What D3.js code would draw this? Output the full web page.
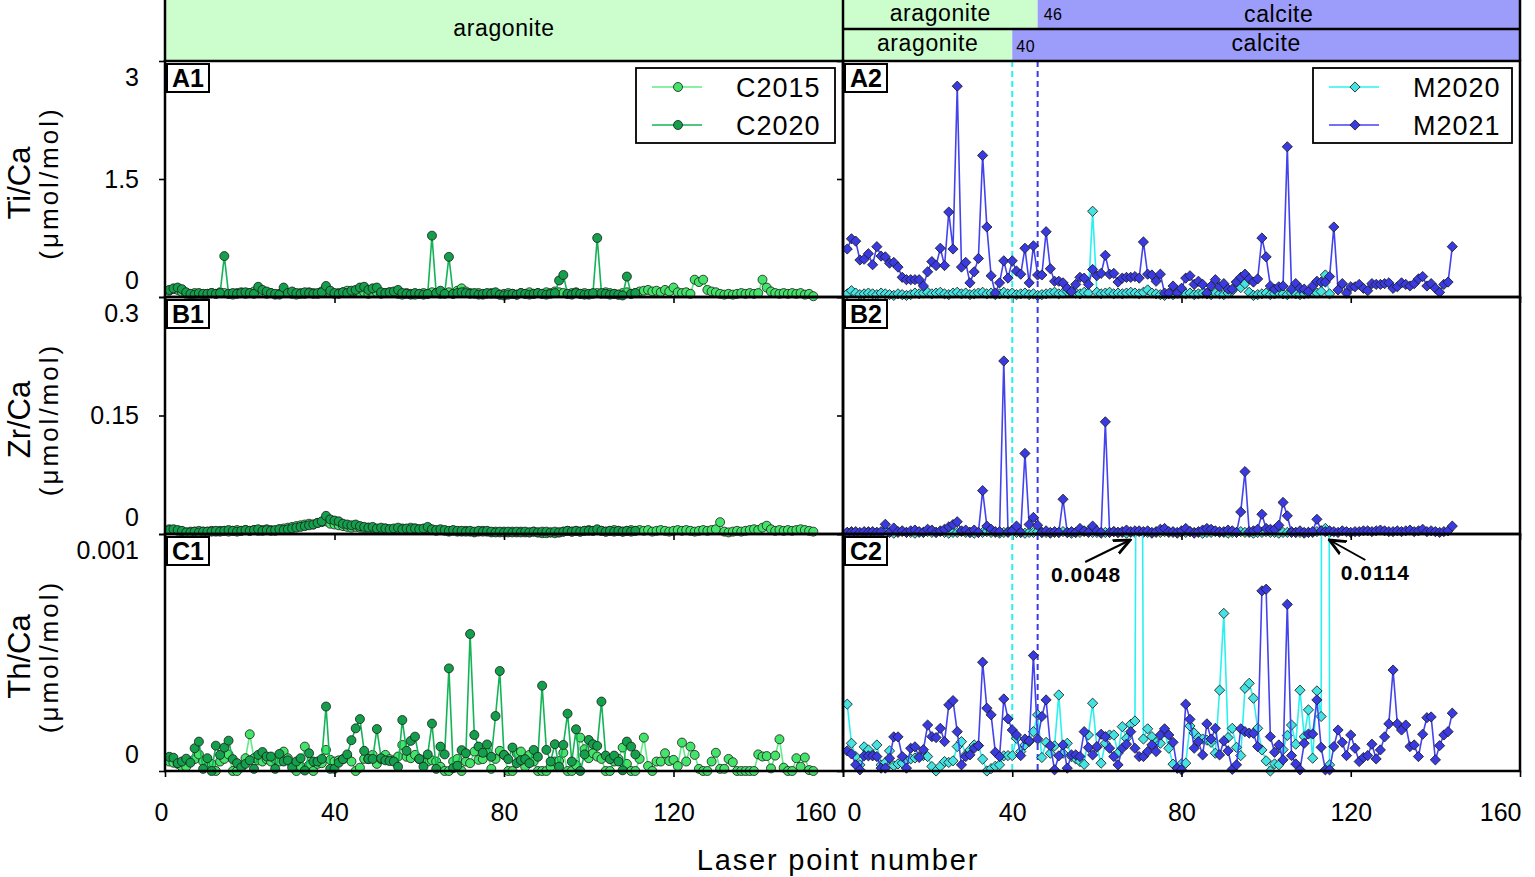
<!DOCTYPE html>
<html>
<head>
<meta charset="utf-8">
<script src="https://cdn.jsdelivr.net/npm/d3@7/dist/d3.min.js"></script>
<style>
    body { margin: 0; background: #fff; }
    svg { display: block; font-family: 'Liberation Sans', Arial, sans-serif; }
</style>
</head>
<body>
<svg id="chart" width="1535" height="877"></svg>
<script>
// laser point number of the first value in every series
const firstPoint = 1;

const xTicks = [0, 40, 80, 120, 160];
const tiTicks = [0, 1.5, 3];
const zrTicks = [0, 0.15, 0.3];
const thTicks = [0, 0.001];

// phase boundaries (laser point) for the two modern samples
const boundaryM2021 = 46;
const boundaryM2020 = 40;

// Ti/Ca (umol/mol)
const tiC2015 = [
    0.08, 0.10, 0.09, 0.06, 0.04, 0.03, 0.05, 0.04, 0.03, 0.04,
    0.05, 0.04, 0.06, 0.05, 0.04, 0.03, 0.05, 0.06, 0.04, 0.05,
    0.07, 0.09, 0.06, 0.04, 0.05, 0.03, 0.04, 0.06, 0.05, 0.04,
    0.03, 0.05, 0.04, 0.06, 0.05, 0.04, 0.07, 0.08, 0.05, 0.04,
    0.05, 0.06, 0.08, 0.06, 0.07, 0.05, 0.06, 0.04, 0.05, 0.06,
    0.04, 0.05, 0.06, 0.05, 0.04, 0.03, 0.05, 0.04, 0.03, 0.04,
    0.05, 0.04, 0.06, 0.05, 0.04, 0.05, 0.06, 0.04, 0.08, 0.11,
    0.07, 0.05, 0.04, 0.05, 0.03, 0.04, 0.05, 0.04, 0.03, 0.04,
    0.05, 0.04, 0.03, 0.05, 0.04, 0.06, 0.04, 0.05, 0.04, 0.06,
    0.05, 0.07, 0.06, 0.05, 0.04, 0.05, 0.06, 0.04, 0.05, 0.03,
    0.04, 0.05, 0.04, 0.06, 0.05, 0.04, 0.03, 0.05, 0.06, 0.04,
    0.05, 0.07, 0.08, 0.09, 0.07, 0.08, 0.06, 0.09, 0.07, 0.12,
    0.06, 0.05, 0.06, 0.04, 0.22, 0.19, 0.22, 0.09, 0.07, 0.06,
    0.04, 0.03, 0.04, 0.03, 0.04, 0.05, 0.04, 0.05, 0.04, 0.05,
    0.22, 0.12, 0.07, 0.05, 0.04, 0.05, 0.04, 0.05, 0.04, 0.05,
    0.03, 0.04, 0.01
];
const tiC2020 = [
    0.09, 0.11, 0.12, 0.10, 0.06, 0.04, 0.03, 0.05, 0.04, 0.04,
    0.05, 0.04, 0.05, 0.52, 0.04, 0.05, 0.04, 0.05, 0.06, 0.05,
    0.04, 0.13, 0.09, 0.07, 0.05, 0.04, 0.03, 0.12, 0.05, 0.07,
    0.05, 0.04, 0.06, 0.05, 0.04, 0.05, 0.06, 0.14, 0.08, 0.05,
    0.04, 0.06, 0.05, 0.08, 0.09, 0.12, 0.13, 0.09, 0.11, 0.12,
    0.06, 0.05, 0.06, 0.07, 0.09, 0.05, 0.04, 0.03, 0.05, 0.04,
    0.03, 0.04, 0.78, 0.05, 0.08, 0.04, 0.51, 0.04, 0.05, 0.06,
    0.05, 0.04, 0.05, 0.03, 0.04, 0.05, 0.04, 0.06, 0.03, 0.02,
    0.03, 0.04, 0.03, 0.05, 0.04, 0.03, 0.04, 0.05, 0.04, 0.03,
    0.04, 0.05, 0.21, 0.28, 0.04, 0.03, 0.05, 0.04, 0.03, 0.04,
    0.05, 0.75, 0.05, 0.04, 0.03, 0.04, 0.03, 0.02, 0.26, 0.04,
    0.05
];
const tiM2020 = [
    0.04, 0.08, 0.05, 0.03, 0.04, 0.05, 0.04, 0.03, 0.05, 0.04,
    0.03, 0.02, 0.04, 0.03, 0.02, 0.03, 0.05, 0.04, 0.05, 0.06,
    0.04, 0.05, 0.06, 0.04, 0.03, 0.05, 0.06, 0.04, 0.05, 0.03,
    0.04, 0.05, 0.06, 0.04, 0.05, 0.03, 0.04, 0.06, 0.04, 0.05,
    0.03, 0.04, 0.05, 0.03, 0.04, 0.02, 0.03, 0.04, 0.05, 0.06,
    0.04, 0.05, 0.07, 0.06, 0.05, 0.04, 0.06, 0.05, 1.09, 0.06,
    0.04, 0.05, 0.06, 0.04, 0.05, 0.04, 0.05, 0.06, 0.05, 0.04,
    0.06, 0.09, 0.05, 0.04, 0.03, 0.02, 0.04, 0.03, 0.05, 0.06,
    0.04, 0.05, 0.03, 0.04, 0.05, 0.04, 0.03, 0.05, 0.04, 0.03,
    0.05, 0.08, 0.19, 0.12, 0.17, 0.06, 0.02, 0.03, 0.04, 0.05,
    0.03, 0.04, 0.05, 0.04, 0.03, 0.05, 0.04, 0.03, 0.04, 0.05,
    0.06, 0.05, 0.07, 0.28, 0.04
];
const tiM2021 = [
    0.61, 0.74, 0.71, 0.47, 0.48, 0.55, 0.41, 0.64, 0.52, 0.51,
    0.43, 0.44, 0.38, 0.25, 0.22, 0.22, 0.22, 0.22, 0.14, 0.32,
    0.45, 0.40, 0.62, 0.40, 1.08, 0.61, 2.68, 0.38, 0.44, 0.18,
    0.32, 0.49, 1.80, 0.89, 0.27, 0.05, 0.18, 0.46, 0.24, 0.46,
    0.33, 0.29, 0.62, 0.18, 0.65, 0.28, 0.28, 0.83, 0.36, 0.20,
    0.20, 0.18, 0.11, 0.07, 0.16, 0.25, 0.24, 0.16, 0.35, 0.27,
    0.30, 0.53, 0.29, 0.30, 0.19, 0.24, 0.25, 0.25, 0.26, 0.24,
    0.70, 0.29, 0.28, 0.20, 0.29, 0.05, 0.05, 0.14, 0.05, 0.11,
    0.24, 0.27, 0.16, 0.20, 0.16, 0.05, 0.14, 0.22, 0.13, 0.17,
    0.10, 0.10, 0.19, 0.25, 0.29, 0.23, 0.19, 0.23, 0.75, 0.51,
    0.14, 0.10, 0.13, 0.14, 1.91, 0.10, 0.17, 0.11, 0.10, 0.07,
    0.14, 0.20, 0.19, 0.19, 0.26, 0.89, 0.09, 0.17, 0.05, 0.13,
    0.13, 0.16, 0.11, 0.08, 0.17, 0.16, 0.16, 0.17, 0.18, 0.11,
    0.13, 0.18, 0.16, 0.14, 0.17, 0.23, 0.26, 0.14, 0.17, 0.11,
    0.06, 0.16, 0.19, 0.64
];

// Zr/Ca (umol/mol)
const zrC2015 = [
    0.006, 0.005, 0.004, 0.003, 0.002, 0.003, 0.003, 0.004, 0.003, 0.003,
    0.004, 0.003, 0.004, 0.004, 0.003, 0.004, 0.005, 0.004, 0.005, 0.004,
    0.005, 0.004, 0.005, 0.006, 0.005, 0.004, 0.006, 0.007, 0.008, 0.009,
    0.010, 0.011, 0.012, 0.013, 0.012, 0.014, 0.015, 0.016, 0.013, 0.012,
    0.011, 0.010, 0.009, 0.008, 0.009, 0.008, 0.007, 0.008, 0.007, 0.006,
    0.006, 0.007, 0.006, 0.005, 0.006, 0.007, 0.006, 0.008, 0.007, 0.006,
    0.006, 0.007, 0.005, 0.004, 0.005, 0.004, 0.003, 0.004, 0.003, 0.003,
    0.004, 0.003, 0.002, 0.003, 0.004, 0.003, 0.002, 0.003, 0.002, 0.003,
    0.002, 0.003, 0.002, 0.003, 0.002, 0.002, 0.003, 0.002, 0.001, 0.001,
    0.002, 0.001, 0.002, 0.003, 0.004, 0.003, 0.004, 0.003, 0.004, 0.005,
    0.004, 0.005, 0.004, 0.003, 0.004, 0.005, 0.004, 0.003, 0.004, 0.005,
    0.004, 0.005, 0.004, 0.005, 0.003, 0.004, 0.005, 0.004, 0.003, 0.004,
    0.005, 0.004, 0.005, 0.004, 0.003, 0.004, 0.005, 0.004, 0.005, 0.006,
    0.015, 0.003, 0.002, 0.003, 0.004, 0.003, 0.004, 0.005, 0.006, 0.005,
    0.008, 0.0105, 0.006, 0.004, 0.005, 0.004, 0.005, 0.004, 0.005, 0.006,
    0.005, 0.004, 0.003
];
const zrC2020 = [
    0.005, 0.006, 0.005, 0.004, 0.002, 0.002, 0.003, 0.002, 0.003, 0.003,
    0.003, 0.004, 0.003, 0.004, 0.005, 0.004, 0.003, 0.004, 0.005, 0.004,
    0.005, 0.006, 0.004, 0.005, 0.004, 0.005, 0.006, 0.005, 0.006, 0.007,
    0.008, 0.009, 0.010, 0.011, 0.012, 0.014, 0.016, 0.023, 0.0185, 0.017,
    0.016, 0.013, 0.012, 0.011, 0.012, 0.010, 0.009, 0.008, 0.009, 0.007,
    0.008, 0.007, 0.006, 0.007, 0.008, 0.006, 0.007, 0.006, 0.007, 0.006,
    0.007, 0.009, 0.006, 0.005, 0.006, 0.005, 0.004, 0.005, 0.004, 0.004,
    0.003, 0.004, 0.003, 0.004, 0.003, 0.004, 0.003, 0.002, 0.003, 0.002,
    0.003, 0.002, 0.003, 0.002, 0.003, 0.002, 0.003, 0.002, 0.003, 0.003,
    0.002, 0.003, 0.002, 0.003, 0.004, 0.003, 0.004, 0.003, 0.004, 0.004,
    0.004, 0.006, 0.004, 0.003, 0.004, 0.003, 0.004, 0.003, 0.004, 0.003,
    0.004
];
const zrM2020 = [
    0.002, 0.003, 0.002, 0.001, 0.002, 0.003, 0.002, 0.002, 0.001, 0.002,
    0.002, 0.001, 0.002, 0.003, 0.002, 0.002, 0.001, 0.002, 0.002, 0.003,
    0.002, 0.002, 0.003, 0.002, 0.001, 0.002, 0.002, 0.003, 0.002, 0.002,
    0.001, 0.002, 0.002, 0.003, 0.002, 0.002, 0.001, 0.002, 0.003, 0.005,
    0.002, 0.002, 0.001, 0.002, 0.002, 0.003, 0.002, 0.002, 0.001, 0.002,
    0.002, 0.003, 0.002, 0.001, 0.002, 0.002, 0.003, 0.004, 0.002, 0.002,
    0.001, 0.002, 0.002, 0.003, 0.002, 0.002, 0.001, 0.002, 0.002, 0.003,
    0.002, 0.002, 0.001, 0.002, 0.002, 0.003, 0.002, 0.002, 0.001, 0.002,
    0.002, 0.003, 0.002, 0.002, 0.001, 0.002, 0.002, 0.003, 0.002, 0.002,
    0.001, 0.002, 0.002, 0.003, 0.002, 0.002, 0.001, 0.002, 0.002, 0.003,
    0.002, 0.002, 0.001, 0.002, 0.002, 0.003, 0.002, 0.002, 0.001, 0.002,
    0.002, 0.003, 0.004, 0.007, 0.002
];
const zrM2021 = [
    0.002, 0.002, 0.003, 0.002, 0.003, 0.002, 0.003, 0.002, 0.003, 0.0123,
    0.002, 0.0076, 0.003, 0.004, 0.002, 0.004, 0.005, 0.003, 0.002, 0.006,
    0.005, 0.002, 0.004, 0.006, 0.009, 0.012, 0.0155, 0.004, 0.005, 0.002,
    0.005, 0.002, 0.0549, 0.010, 0.006, 0.003, 0.003, 0.219, 0.002, 0.004,
    0.010, 0.002, 0.102, 0.012, 0.021, 0.011, 0.002, 0.004, 0.002, 0.003,
    0.002, 0.044, 0.002, 0.003, 0.002, 0.007, 0.004, 0.002, 0.010, 0.004,
    0.002, 0.142, 0.002, 0.003, 0.002, 0.003, 0.005, 0.003, 0.004, 0.004,
    0.003, 0.004, 0.002, 0.003, 0.006, 0.007, 0.003, 0.003, 0.002, 0.004,
    0.007, 0.003, 0.001, 0.003, 0.005, 0.007, 0.006, 0.004, 0.003, 0.003,
    0.005, 0.004, 0.002, 0.028, 0.079, 0.003, 0.004, 0.006, 0.025, 0.007,
    0.006, 0.006, 0.011, 0.040, 0.023, 0.002, 0.002, 0.004, 0.002, 0.002,
    0.003, 0.0186, 0.004, 0.003, 0.004, 0.003, 0.002, 0.004, 0.003, 0.002,
    0.003, 0.003, 0.004, 0.004, 0.003, 0.004, 0.005, 0.004, 0.003, 0.003,
    0.004, 0.003, 0.004, 0.005, 0.003, 0.004, 0.006, 0.003, 0.004, 0.003,
    0.002, 0.003, 0.004, 0.010
];

// Th/Ca, stored in units of 1e-4 umol/mol
const thUnit = 1e-4;
const thC2015 = [
    0.40, 0.35, 0.30, 0.18, 0.18, 0.40, 0.50, 0.70, 0.40, 0.18,
    0.30, 0.00, 0.40, 0.51, 0.70, 0.00, 0.00, 0.20, 0.54, 1.55,
    0.54, 0.45, 0.40, 0.50, 0.40, 0.50, 0.40, 0.82, 0.54, 0.30,
    0.00, 0.20, 1.03, 0.25, 0.00, 0.30, 0.33, 0.89, 0.47, 0.40,
    0.45, 0.50, 0.57, 0.40, 0.00, 0.14, 0.51, 0.50, 0.68, 0.30,
    0.50, 0.68, 0.50, 0.45, 0.61, 1.10, 0.60, 0.54, 0.68, 0.50,
    0.45, 0.40, 0.45, 0.40, 0.18, 0.00, 0.00, 0.40, 0.51, 0.00,
    0.40, 0.33, 0.82, 0.47, 0.50, 0.82, 0.09, 0.51, 0.85, 0.68,
    0.00, 0.00, 0.75, 0.82, 0.18, 0.68, 0.40, 0.00, 0.00, 0.00,
    0.18, 0.40, 0.42, 0.77, 0.00, 0.00, 0.25, 1.41, 0.92, 0.54,
    0.75, 0.61, 0.51, 0.00, 0.00, 0.40, 0.51, 0.99, 0.30, 0.00,
    0.00, 0.51, 1.41, 0.21, 0.00, 0.40, 0.40, 0.75, 0.42, 0.47,
    0.21, 1.20, 0.40, 1.03, 0.68, 0.09, 0.00, 0.00, 0.40, 0.77,
    0.09, 0.09, 0.51, 0.37, 0.00, 0.00, 0.00, 0.00, 0.00, 0.70,
    0.61, 0.63, 0.11, 0.65, 1.34, 0.14, 0.00, 0.00, 0.54, 0.18,
    0.57, 0.04, 0.00
];
const thC2020 = [
    0.60, 0.56, 0.33, 0.40, 0.52, 0.35, 0.96, 1.24, 0.09, 0.54,
    0.00, 1.07, 0.68, 0.99, 1.28, 0.50, 0.33, 0.15, 0.30, 0.45,
    0.09, 0.68, 0.80, 0.61, 0.61, 0.09, 0.72, 0.40, 0.45, 0.15,
    0.40, 0.54, 0.02, 0.75, 0.40, 0.40, 0.51, 2.72, 0.09, 0.09,
    0.35, 0.50, 0.70, 1.30, 1.80, 2.19, 0.85, 0.51, 0.51, 1.77,
    0.54, 0.45, 0.42, 0.40, 0.18, 2.15, 0.85, 1.27, 1.45, 0.51,
    0.18, 0.70, 2.00, 0.09, 1.03, 0.70, 4.33, 0.12, 0.22, 0.88,
    0.75, 5.78, 1.52, 1.03, 0.77, 1.12, 0.60, 2.32, 4.22, 0.68,
    0.50, 0.99, 0.33, 0.45, 0.50, 0.33, 0.89, 0.60, 3.60, 0.89,
    0.40, 1.13, 0.18, 1.10, 2.42, 0.40, 1.76, 0.00, 0.70, 1.31,
    1.13, 1.06, 2.93, 0.65, 0.50, 0.65, 0.40, 0.03, 1.24, 1.03,
    0.70
];
const thM2020 = [
    2.82, 1.17, 0.61, 0.26, 1.02, 0.89, 0.68, 1.10, 0.26, 0.36,
    0.85, 0.22, 0.30, 0.33, 0.45, 0.51, 0.55, 0.61, 0.65, 0.61,
    0.19, 0.00, 0.20, 0.40, 0.36, 0.43, 1.03, 1.24, 0.68, 0.89,
    1.10, 1.07, 0.50, 0.00, 0.10, 0.20, 0.26, 0.64, 0.65, 0.65,
    1.38, 0.82, 1.10, 1.24, 1.66, 2.37, 0.57, 1.21, 0.75, 1.06,
    3.21, 0.75, 1.17, 0.61, 0.51, 0.40, 0.28, 1.52, 2.86, 1.00,
    0.33, 1.17, 1.52, 1.52, 0.75, 1.87, 1.38, 1.97, 2.11, 48.0,
    1.35, 1.78, 1.45, 1.20, 1.17, 1.66, 0.96, 0.29, 0.12, 0.30,
    0.33, 1.90, 1.60, 1.41, 1.35, 1.30, 1.21, 0.75, 3.41, 6.65,
    1.41, 1.80, 1.00, 0.65, 3.49, 3.70, 3.07, 1.80, 0.89, 0.43,
    0.00, 0.30, 0.26, 0.90, 1.50, 1.94, 1.13, 3.41, 1.45, 2.58,
    0.54, 3.38, 2.30, 114.0, 0.26
];
const thM2021 = [
    0.85, 0.72, 0.26, 0.05, 0.64, 0.64, 0.64, 0.61, 0.12, 0.12,
    0.54, 1.44, 1.44, 0.61, 0.12, 0.96, 1.02, 0.57, 0.90, 1.94,
    1.45, 1.41, 1.80, 1.24, 2.79, 2.97, 1.66, 0.26, 0.61, 0.68,
    0.96, 1.07, 4.59, 2.65, 2.37, 0.79, 0.61, 3.04, 2.20, 1.73,
    1.52, 0.65, 1.35, 1.27, 4.87, 1.35, 2.30, 3.00, 1.07, 0.05,
    0.64, 1.10, 0.12, 0.68, 0.68, 0.61, 1.66, 0.99, 0.68, 1.03,
    1.55, 1.45, 0.96, 0.61, 0.26, 0.96, 1.13, 1.66, 0.96, 0.61,
    0.61, 0.82, 1.10, 0.82, 1.52, 1.78, 1.52, 1.21, 0.12, 0.05,
    2.82, 2.18, 0.96, 1.24, 0.68, 1.99, 1.35, 1.80, 0.68, 1.27,
    0.85, 0.07, 0.26, 1.78, 1.66, 1.60, 1.59, 1.03, 7.60, 7.67,
    1.45, 0.79, 1.10, 0.47, 7.03, 0.65, 0.30, 0.05, 1.17, 1.56,
    1.56, 3.00, 1.00, 0.05, 0.05, 1.03, 1.73, 1.21, 0.65, 1.52,
    0.96, 0.40, 0.57, 0.65, 1.13, 0.51, 0.89, 1.44, 1.99, 4.26,
    1.99, 1.73, 1.94, 1.03, 1.10, 0.61, 1.55, 2.25, 2.28, 0.47,
    1.07, 1.52, 1.66, 2.44
];

const seriesStyle = {
    C2015: { line: '#62ea86', fill: '#44e36a', marker: 'circle' },
    C2020: { line: '#14b456', fill: '#139f4b', marker: 'circle' },
    M2020: { line: '#2cf0f0', fill: '#45e2e2', marker: 'diamond' },
    M2021: { line: '#4343ee', fill: '#3a3ae2', marker: 'diamond' }
};

const rows = [
    { title: 'Ti/Ca', tag: 'A', ticks: tiTicks,
      left: { C2015: tiC2015, C2020: tiC2020 },
      right: { M2020: tiM2020, M2021: tiM2021 } },
    { title: 'Zr/Ca', tag: 'B', ticks: zrTicks,
      left: { C2015: zrC2015, C2020: zrC2020 },
      right: { M2020: zrM2020, M2021: zrM2021 } },
    { title: 'Th/Ca', tag: 'C', ticks: thTicks,
      left: { C2015: thC2015.map(v => v * thUnit), C2020: thC2020.map(v => v * thUnit) },
      right: { M2020: thM2020.map(v => v * thUnit), M2021: thM2021.map(v => v * thUnit) } }
];

const panelLeft = 165, panelMid = 843, panelRight = 1520;
const rowEdges = [61, 297, 534, 771];
const headerSplit = 29;

const svg = d3.select('#chart');

let xLeft = d3.scaleLinear().domain([0, 160]).range([panelLeft, panelMid]);
let xRight = d3.scaleLinear().domain([0, 160]).range([panelMid, panelRight]);

function drawMarker(sel, type, fill) {
    if (type == 'circle') {
        sel.append('circle')
            .attr('r', 4.5)
            .attr('fill', fill)
            .attr('stroke', '#1b1b1b')
            .attr('stroke-width', 0.8);
    } else {
        sel.append('path')
            .attr('d', d3.symbol().type(d3.symbolSquare).size(52)())
            .attr('transform', 'rotate(45)')
            .attr('fill', fill)
            .attr('stroke', '#1b1b1b')
            .attr('stroke-width', 0.8);
    }
}

function drawSeries(g, name, values, x, y) {
    let style = seriesStyle[name];
    let pts = values.map((v, i) => ({ n: i + firstPoint, v: v }));

    let line = d3.line()
        .x(d => x(d.n))
        .y(d => y(d.v));

    g.append('path')
        .datum(pts)
        .attr('fill', 'none')
        .attr('stroke', style.line)
        .attr('stroke-width', 1.6)
        .attr('d', line);

    g.selectAll(`.m-${name}`)
        .data(pts)
        .enter()
        .append('g')
        .attr('class', `m-${name}`)
        .attr('transform', d => `translate(${x(d.n)},${y(d.v)})`)
        .each(function () { drawMarker(d3.select(this), style.marker, style.fill); });
}

function shiftEndLabels(axisG, ticks) {
    axisG.selectAll('.tick text').each(function (d) {
        let t = d3.select(this);
        if (d == ticks[ticks.length - 1]) t.attr('y', 16);
        if (d == ticks[0]) t.attr('y', -17);
    });
}

// header bands
function drawBand(x, y0, y1, from, to, fill, label, labelY, size) {
    svg.append('rect')
        .attr('x', x(from))
        .attr('y', y0)
        .attr('width', x(to) - x(from))
        .attr('height', y1 - y0)
        .attr('fill', fill);
    svg.append('text')
        .attr('x', (x(from) + x(to)) / 2)
        .attr('y', labelY)
        .attr('text-anchor', 'middle')
        .attr('font-size', size)
        .attr('letter-spacing', 0.6)
        .text(label);
}

const green = '#ccfdcc', violet = '#9c9cfa';
drawBand(xLeft, -2, rowEdges[0], 0, 160, green, 'aragonite', 36, 23);
drawBand(xRight, -2, headerSplit, 0, boundaryM2021, green, 'aragonite', 21, 23);
drawBand(xRight, -2, headerSplit, boundaryM2021, 160, violet, 'calcite', 22, 23);
drawBand(xRight, headerSplit, rowEdges[0], 0, boundaryM2020, green, 'aragonite', 51, 23);
drawBand(xRight, headerSplit, rowEdges[0], boundaryM2020, 160, violet, 'calcite', 51, 23);

svg.append('text').attr('x', xRight(boundaryM2021) + 6).attr('y', 20)
    .attr('font-size', 16).attr('letter-spacing', 0.5).text(boundaryM2021);
svg.append('text').attr('x', xRight(boundaryM2020) + 4).attr('y', 52)
    .attr('font-size', 16).attr('letter-spacing', 0.5).text(boundaryM2020);

svg.append('line')
    .attr('x1', panelMid).attr('x2', panelRight)
    .attr('y1', headerSplit).attr('y2', headerSplit)
    .attr('stroke', '#000').attr('stroke-width', 2.5);
[panelLeft, panelMid, panelRight].forEach(px => {
    svg.append('line')
        .attr('x1', px).attr('x2', px)
        .attr('y1', 0).attr('y2', rowEdges[0])
        .attr('stroke', '#000').attr('stroke-width', 2.5);
});

// panels
rows.forEach((row, r) => {
    let top = rowEdges[r], bottom = rowEdges[r + 1];
    let y = d3.scaleLinear()
        .domain([0, row.ticks[row.ticks.length - 1]])
        .range([bottom, top]);

    [['left', xLeft], ['right', xRight]].forEach(([side, x], c) => {
        let id = `clip-${r}-${c}`;
        svg.append('clipPath').attr('id', id)
            .append('rect')
            .attr('x', x(0) - 6).attr('y', top)
            .attr('width', x(160) - x(0) + 12).attr('height', bottom - top + 6);

        let g = svg.append('g').attr('clip-path', `url(#${id})`);

        if (side == 'right') {
            [[boundaryM2020, seriesStyle.M2020.line], [boundaryM2021, '#3a3ae8']].forEach(([b, col]) => {
                g.append('line')
                    .attr('x1', x(b)).attr('x2', x(b))
                    .attr('y1', top).attr('y2', bottom)
                    .attr('stroke', col)
                    .attr('stroke-width', 2)
                    .attr('stroke-dasharray', '6,4');
            });
        }

        Object.keys(row[side]).forEach(name => drawSeries(g, name, row[side][name], x, y));

        // y axis, ticks outward
        let yAxis = svg.append('g')
            .attr('transform', `translate(${x(0)},0)`)
            .call(d3.axisLeft(y).tickValues(row.ticks).tickSize(6).tickPadding(20)
                .tickFormat(c == 0 ? (d => String(d)) : ''));
        yAxis.select('.domain').remove();
        yAxis.selectAll('.tick line').attr('stroke-width', 1.6);
        yAxis.selectAll('.tick text').attr('font-size', 25).attr('fill', '#000');
        yAxis.attr('font-family', null);
        if (c == 0) shiftEndLabels(yAxis, row.ticks);

        // x axis
        let xAxis = svg.append('g')
            .attr('transform', `translate(0,${bottom})`)
            .call(d3.axisBottom(x).tickValues(xTicks).tickSize(6).tickPadding(26)
                .tickFormat(r == rows.length - 1 ? (d => String(d)) : ''));
        xAxis.select('.domain').remove();
        xAxis.selectAll('.tick line').attr('stroke-width', 1.6);
        xAxis.selectAll('.tick text').attr('font-size', 25).attr('fill', '#000');
        xAxis.attr('font-family', null);
        if (r == rows.length - 1) {
            xAxis.selectAll('.tick text').each(function (d) {
                let t = d3.select(this);
                if (c == 0 && d == 160) t.attr('text-anchor', 'end').attr('x', -7);
                if (c == 1 && d == 0) t.attr('text-anchor', 'start').attr('x', 4);
                if (c == 1 && d == 160) t.attr('text-anchor', 'end').attr('x', 1);
                if (c == 0 && d == 0) t.attr('x', -4);
            });
        }

        // frame
        svg.append('rect')
            .attr('x', x(0)).attr('y', top)
            .attr('width', x(160) - x(0)).attr('height', bottom - top)
            .attr('fill', 'none')
            .attr('stroke', '#000')
            .attr('stroke-width', 2.5);

        // panel tag
        let tag = svg.append('g').attr('transform', `translate(${x(0) + 2},${top + 3})`);
        tag.append('rect')
            .attr('width', 42).attr('height', 28)
            .attr('fill', '#fff')
            .attr('stroke', '#000')
            .attr('stroke-width', 2);
        tag.append('text')
            .attr('x', 21).attr('y', 23)
            .attr('text-anchor', 'middle')
            .attr('font-size', 25)
            .attr('font-weight', 'bold')
            .text(`${row.tag}${c + 1}`);
    });

    // y title
    let mid = (top + bottom) / 2 + 4;
    svg.append('text')
        .attr('transform', `translate(30,${mid}) rotate(-90)`)
        .attr('text-anchor', 'middle')
        .attr('font-size', 31)
        .text(row.title);
    svg.append('text')
        .attr('transform', `translate(58,${mid}) rotate(-90)`)
        .attr('text-anchor', 'middle')
        .attr('font-size', 26)
        .attr('letter-spacing', 3)
        .text('(\u03bcmol/mol)');
});

// legends
function drawLegend(x0, y0, names) {
    let g = svg.append('g').attr('transform', `translate(${x0},${y0})`);
    g.append('rect')
        .attr('width', 199).attr('height', 75)
        .attr('fill', '#fff')
        .attr('stroke', '#000')
        .attr('stroke-width', 1.8);
    names.forEach((name, i) => {
        let style = seriesStyle[name];
        let cy = 19 + i * 38;
        g.append('line')
            .attr('x1', 16).attr('x2', 66)
            .attr('y1', cy).attr('y2', cy)
            .attr('stroke', style.line)
            .attr('stroke-width', 1.6);
        let m = g.append('g').attr('transform', `translate(42,${cy})`);
        drawMarker(m, style.marker, style.fill);
        g.append('text')
            .attr('x', 100).attr('y', cy + 10)
            .attr('font-size', 27)
            .attr('letter-spacing', 1)
            .text(name);
    });
}
drawLegend(636, 68, ['C2015', 'C2020']);
drawLegend(1313, 68, ['M2020', 'M2021']);

// x title
svg.append('text')
    .attr('x', 838).attr('y', 870)
    .attr('text-anchor', 'middle')
    .attr('font-size', 29)
    .attr('letter-spacing', 1.8)
    .text('Laser point number');

// off-scale annotations in C2
svg.append('defs').append('marker')
    .attr('id', 'arrow')
    .attr('viewBox', '0 0 10 10')
    .attr('refX', 9).attr('refY', 5)
    .attr('markerWidth', 9).attr('markerHeight', 9)
    .attr('orient', 'auto')
    .append('path')
    .attr('d', 'M0,1 L9,5 L0,9')
    .attr('fill', 'none')
    .attr('stroke', '#000')
    .attr('stroke-width', 1.6);

const offScale = [
    { n: 70, label: '0.0048', dx: -9, tail: [-45, 22], text: [-44, 42] },
    { n: 114, label: '0.0114', dx: 4, tail: [36, 20], text: [46, 40] }
];
offScale.forEach(a => {
    let tx = xRight(a.n) + a.dx, ty = rowEdges[2] + 6;
    svg.append('line')
        .attr('x1', tx + a.tail[0]).attr('y1', ty + a.tail[1])
        .attr('x2', tx).attr('y2', ty)
        .attr('stroke', '#000')
        .attr('stroke-width', 2)
        .attr('marker-end', 'url(#arrow)');
    svg.append('text')
        .attr('x', tx + a.text[0]).attr('y', ty + a.text[1])
        .attr('text-anchor', 'middle')
        .attr('font-size', 21)
        .attr('font-weight', 'bold')
        .attr('letter-spacing', 1)
        .text(a.label);
});
</script>
</body>
</html>
